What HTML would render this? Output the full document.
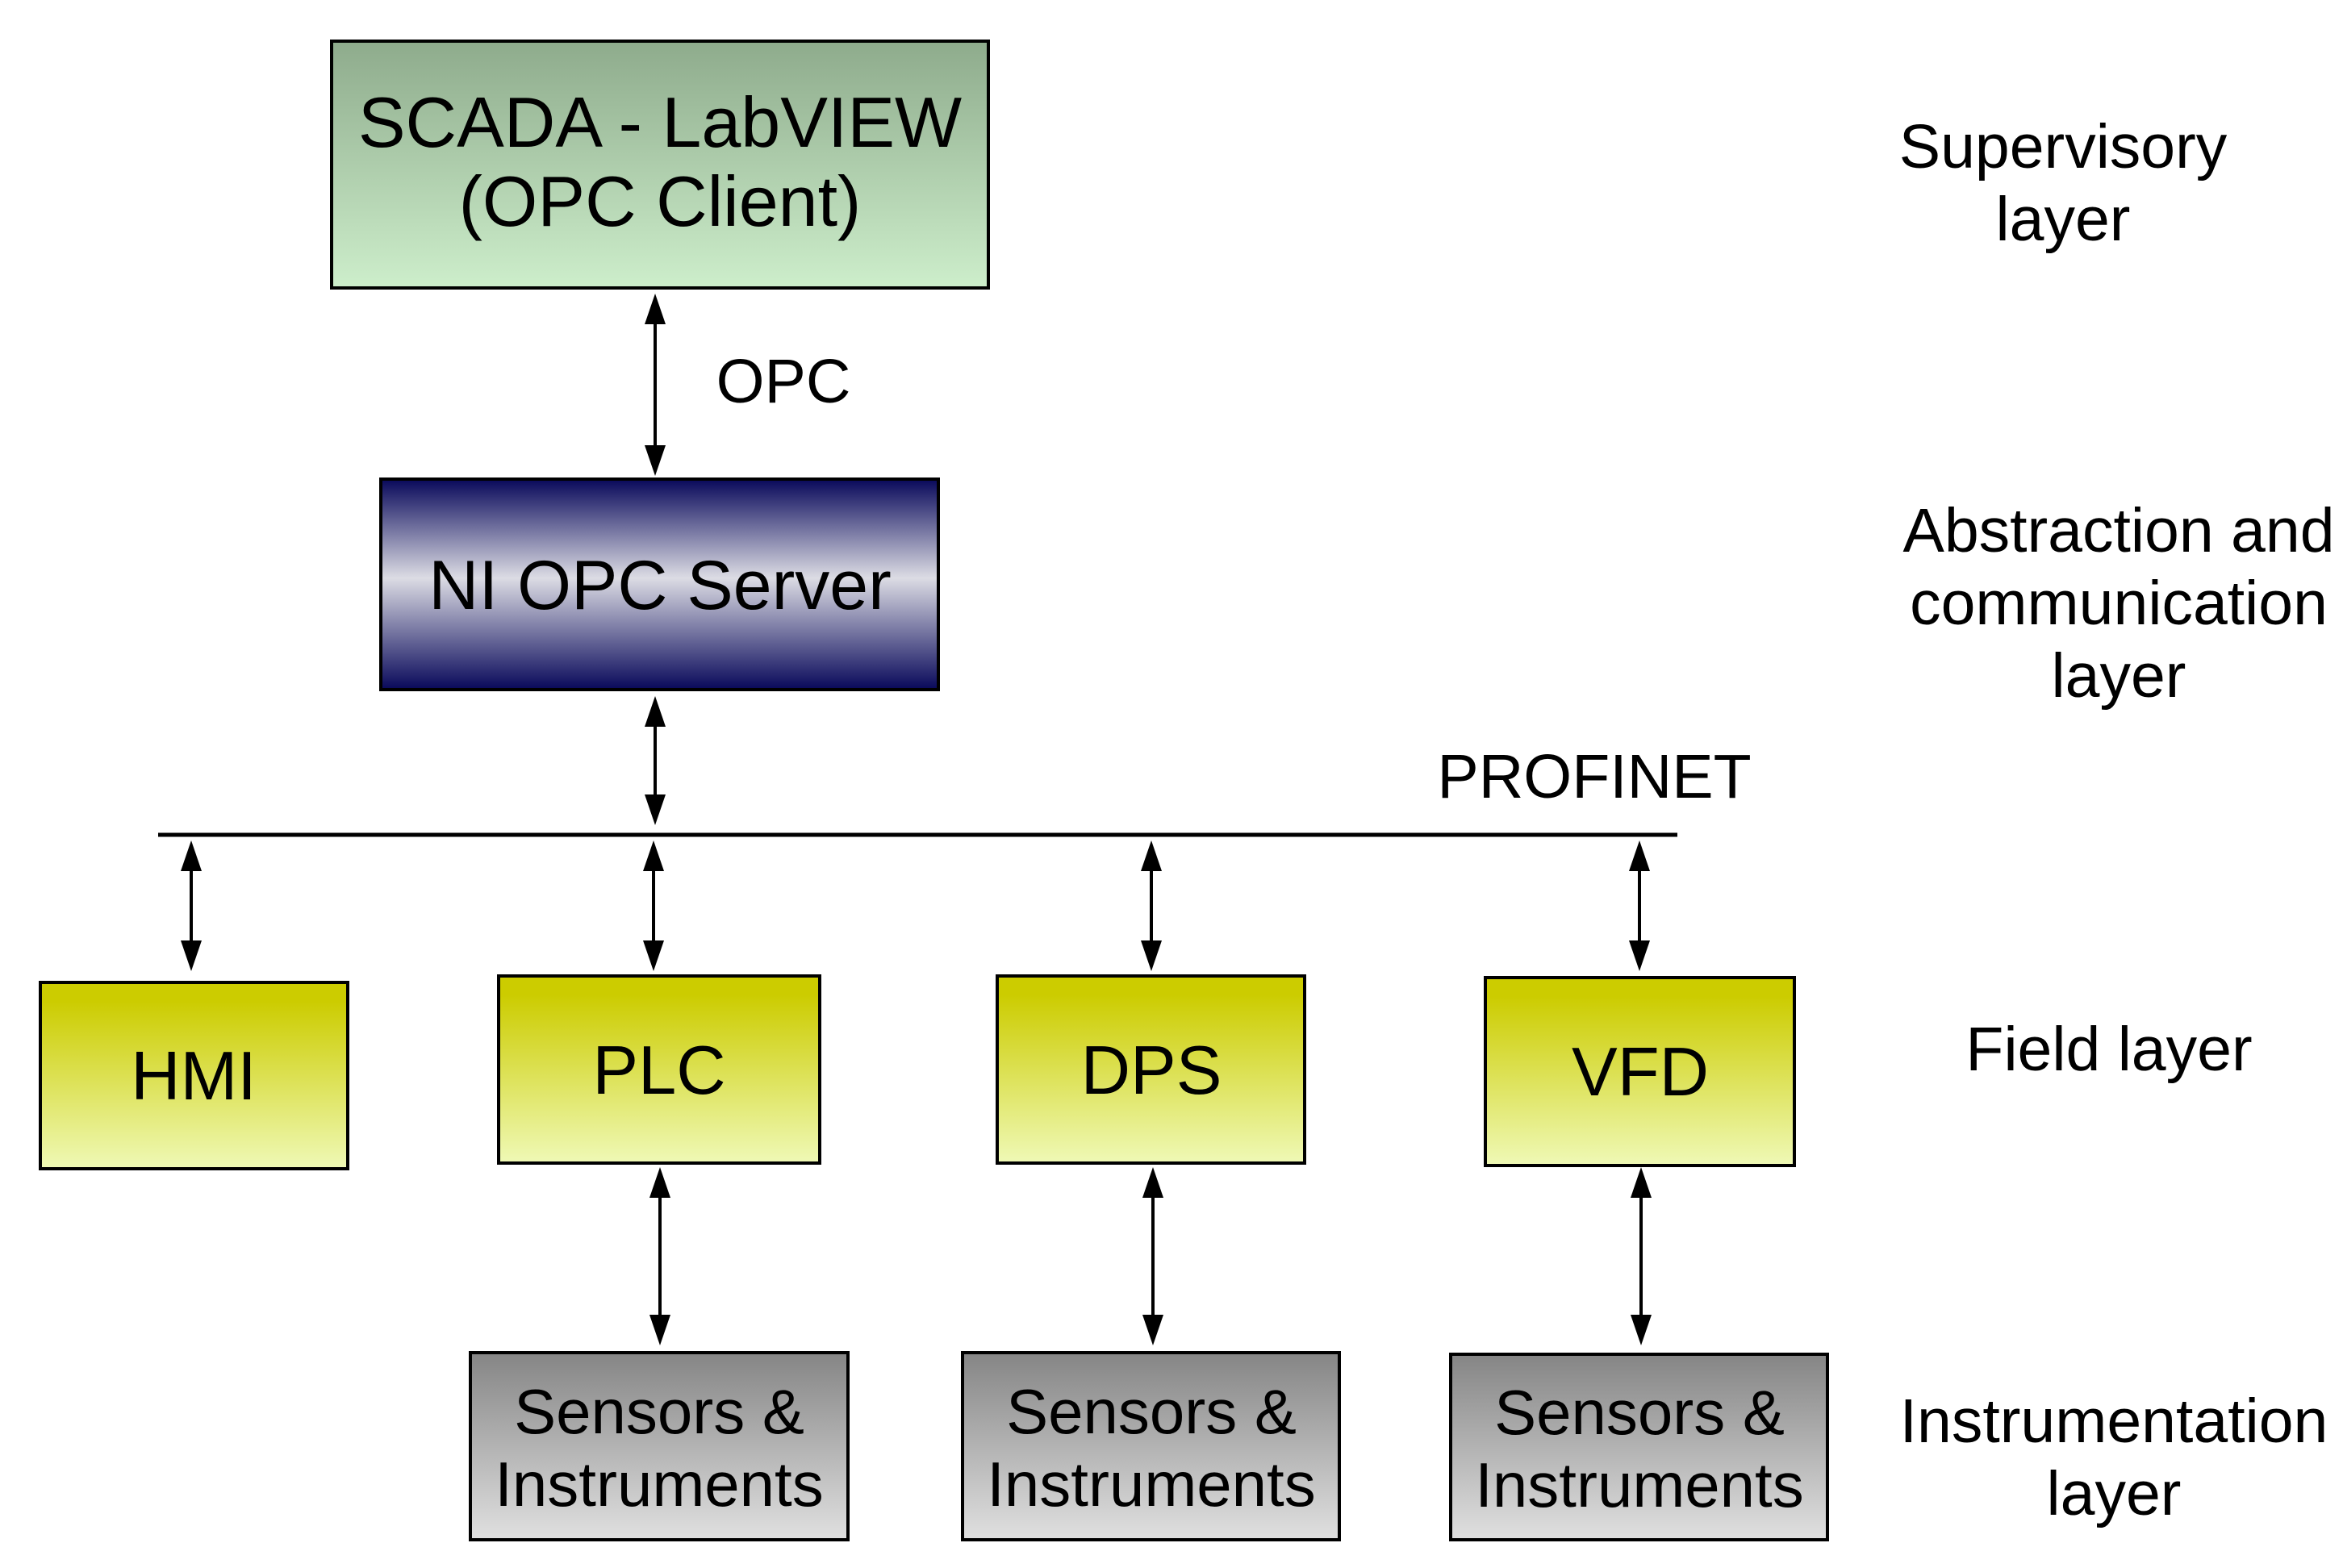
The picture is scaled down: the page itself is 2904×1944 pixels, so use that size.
<!DOCTYPE html>
<html><head><meta charset="utf-8"><style>html,body{margin:0;padding:0;background:#fff}svg{display:block}</style></head><body>
<svg width="2904" height="1944" viewBox="0 0 2904 1944" xmlns="http://www.w3.org/2000/svg" font-family="Liberation Sans, Arial, sans-serif">
<defs>
<linearGradient id="gG" x1="0" y1="0" x2="0" y2="1"><stop offset="0" stop-color="#8eab8c"/><stop offset="1" stop-color="#cdeecb"/></linearGradient>
<linearGradient id="gN" x1="0" y1="0" x2="0" y2="1"><stop offset="0" stop-color="#08085a"/><stop offset="0.47" stop-color="#dcdce4"/><stop offset="1" stop-color="#08085a"/></linearGradient>
<linearGradient id="gY" x1="0" y1="0" x2="0" y2="1"><stop offset="0.1" stop-color="#cccc00"/><stop offset="1" stop-color="#eff9b6"/></linearGradient>
<linearGradient id="gS" x1="0" y1="0" x2="0" y2="1"><stop offset="0" stop-color="#858585"/><stop offset="1" stop-color="#e0e0e0"/></linearGradient>
</defs>
<style>.a{stroke:#000;stroke-width:4;fill:none}.b{stroke:#000;stroke-width:4}</style>
<g fill="#000">
<path d="M812,364 l-13,38 h26 z"/><path d="M812,590 l-13,-38 h26 z"/>
<path d="M812,863 l-13,38 h26 z"/><path d="M812,1023 l-13,-38 h26 z"/>
<path d="M237,1042 l-13,38 h26 z"/><path d="M237,1204 l-13,-38 h26 z"/>
<path d="M810,1042 l-13,38 h26 z"/><path d="M810,1204 l-13,-38 h26 z"/>
<path d="M1427,1042 l-13,38 h26 z"/><path d="M1427,1204 l-13,-38 h26 z"/>
<path d="M2032,1042 l-13,38 h26 z"/><path d="M2032,1204 l-13,-38 h26 z"/>
<path d="M818,1447 l-13,38 h26 z"/><path d="M818,1668 l-13,-38 h26 z"/>
<path d="M1429,1447 l-13,38 h26 z"/><path d="M1429,1668 l-13,-38 h26 z"/>
<path d="M2034,1447 l-13,38 h26 z"/><path d="M2034,1668 l-13,-38 h26 z"/>
</g>
<g class="a">
<line x1="812" y1="390" x2="812" y2="565"/>
<line x1="812" y1="890" x2="812" y2="998"/>
<line x1="237" y1="1070" x2="237" y2="1178"/>
<line x1="810" y1="1070" x2="810" y2="1178"/>
<line x1="1427" y1="1070" x2="1427" y2="1178"/>
<line x1="2032" y1="1070" x2="2032" y2="1178"/>
<line x1="818" y1="1475" x2="818" y2="1642"/>
<line x1="1429" y1="1475" x2="1429" y2="1642"/>
<line x1="2034" y1="1475" x2="2034" y2="1642"/>
</g>
<line x1="196" y1="1035" x2="2079" y2="1035" stroke="#000" stroke-width="5"/>
<rect x="411" y="51" width="814" height="306" fill="url(#gG)" class="b"/>
<rect x="472" y="594" width="691" height="261" fill="url(#gN)" class="b"/>
<rect x="50" y="1218" width="381" height="231" fill="url(#gY)" class="b"/>
<rect x="618" y="1210" width="398" height="232" fill="url(#gY)" class="b"/>
<rect x="1236" y="1210" width="381" height="232" fill="url(#gY)" class="b"/>
<rect x="1841" y="1212" width="383" height="233" fill="url(#gY)" class="b"/>
<rect x="583" y="1677" width="468" height="232" fill="url(#gS)" class="b"/>
<rect x="1193" y="1677" width="467" height="232" fill="url(#gS)" class="b"/>
<rect x="1798" y="1679" width="467" height="230" fill="url(#gS)" class="b"/>
<g text-anchor="middle" fill="#000">
<text x="818" y="182" font-size="88">SCADA - LabVIEW</text>
<text x="818" y="280" font-size="88">(OPC Client)</text>
<text x="818" y="755" font-size="86">NI OPC Server</text>
<text x="240" y="1363" font-size="85">HMI</text>
<text x="817" y="1356" font-size="85">PLC</text>
<text x="1427" y="1356" font-size="85">DPS</text>
<text x="2033" y="1358" font-size="85">VFD</text>
<g font-size="78">
<text x="817" y="1777">Sensors &amp;</text><text x="817" y="1867">Instruments</text>
<text x="1427" y="1777">Sensors &amp;</text><text x="1427" y="1867">Instruments</text>
<text x="2032" y="1778">Sensors &amp;</text><text x="2032" y="1868">Instruments</text>
</g>
<g font-size="77">
<text x="971" y="499">OPC</text>
<text x="1976" y="989">PROFINET</text>
<text x="2557" y="208">Supervisory</text><text x="2557" y="298">layer</text>
<text x="2626" y="684">Abstraction and</text><text x="2626" y="774">communication</text><text x="2626" y="864">layer</text>
<text x="2614" y="1327">Field layer</text>
<text x="2620" y="1788">Instrumentation</text><text x="2620" y="1878">layer</text>
</g>
</g>
</svg>
</body></html>
